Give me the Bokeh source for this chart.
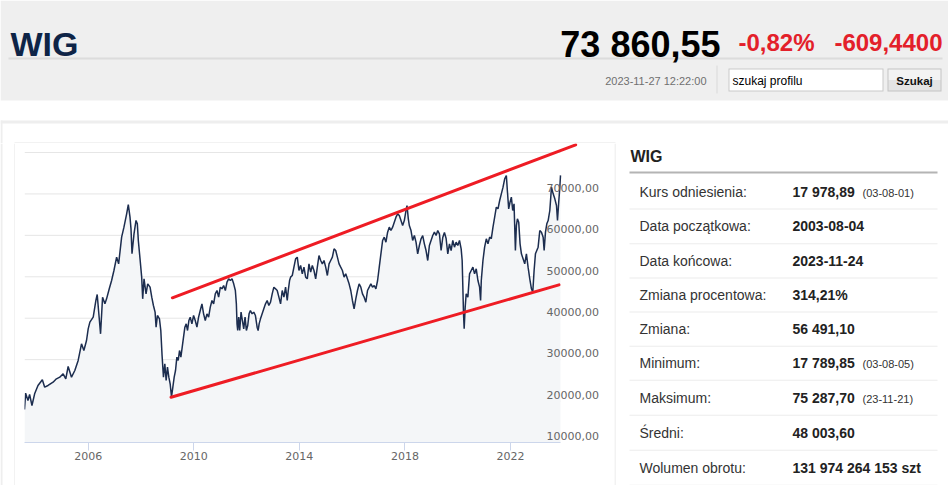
import numpy as np
import pandas as pd
from bokeh.plotting import figure
from bokeh.layouts import column, row
from bokeh.models import Range1d, FixedTicker, DatetimeTickFormatter
from bokeh.core.properties import value
from bokeh.embed import file_html
from bokeh.resources import INLINE

# ---------------- data ----------------
years = [2003.589, 2003.631, 2003.720, 2003.783, 2003.872, 2003.973, 2004.100, 2004.265, 2004.354, 2004.480,
         2004.670, 2004.797, 2004.924, 2005.051, 2005.152, 2005.241, 2005.368, 2005.494, 2005.621, 2005.748,
         2005.837, 2005.938, 2006.001, 2006.065, 2006.191, 2006.293, 2006.343, 2006.394, 2006.470, 2006.546,
         2006.635, 2006.698, 2006.800, 2006.889, 2006.977, 2007.079, 2007.155, 2007.205, 2007.269, 2007.357,
         2007.459, 2007.522, 2007.586, 2007.624, 2007.662, 2007.738, 2007.814, 2007.864, 2007.902, 2007.966,
         2008.029, 2008.067, 2008.118, 2008.194, 2008.257, 2008.346, 2008.410, 2008.473, 2008.536, 2008.574,
         2008.625, 2008.701, 2008.752, 2008.800, 2008.852, 2008.904, 2008.954, 2009.004, 2009.056, 2009.106,
         2009.157, 2009.208, 2009.259, 2009.309, 2009.360, 2009.411, 2009.461, 2009.512, 2009.563, 2009.613,
         2009.664, 2009.715, 2009.765, 2009.816, 2009.867, 2009.930, 2009.994, 2010.057, 2010.121, 2010.184,
         2010.247, 2010.311, 2010.374, 2010.437, 2010.501, 2010.564, 2010.627, 2010.691, 2010.754, 2010.817,
         2010.881, 2010.944, 2011.008, 2011.071, 2011.134, 2011.198, 2011.261, 2011.324, 2011.388, 2011.451,
         2011.515, 2011.578, 2011.616, 2011.641, 2011.667, 2011.705, 2011.743, 2011.794, 2011.844, 2011.895,
         2011.946, 2011.996, 2012.047, 2012.098, 2012.148, 2012.212, 2012.275, 2012.338, 2012.402, 2012.440,
         2012.478, 2012.529, 2012.592, 2012.655, 2012.719, 2012.782, 2012.845, 2012.909, 2012.972, 2013.035,
         2013.099, 2013.162, 2013.226, 2013.289, 2013.352, 2013.416, 2013.479, 2013.542, 2013.581, 2013.631,
         2013.669, 2013.733, 2013.796, 2013.859, 2013.923, 2013.986, 2014.049, 2014.113, 2014.176, 2014.240,
         2014.303, 2014.366, 2014.430, 2014.493, 2014.556, 2014.620, 2014.683, 2014.746, 2014.810, 2014.873,
         2014.936, 2015.000, 2015.063, 2015.127, 2015.190, 2015.253, 2015.317, 2015.380, 2015.444, 2015.507,
         2015.570, 2015.634, 2015.697, 2015.760, 2015.824, 2015.887, 2015.951, 2016.014, 2016.077, 2016.141,
         2016.204, 2016.267, 2016.331, 2016.394, 2016.457, 2016.521, 2016.584, 2016.648, 2016.711, 2016.774,
         2016.838, 2016.901, 2016.965, 2017.028, 2017.091, 2017.155, 2017.218, 2017.281, 2017.345, 2017.408,
         2017.471, 2017.535, 2017.598, 2017.662, 2017.725, 2017.788, 2017.852, 2017.915, 2017.978, 2018.042,
         2018.080, 2018.130, 2018.168, 2018.232, 2018.295, 2018.359, 2018.422, 2018.485, 2018.549, 2018.612,
         2018.676, 2018.739, 2018.802, 2018.866, 2018.929, 2018.992, 2019.056, 2019.119, 2019.183, 2019.246,
         2019.309, 2019.373, 2019.436, 2019.499, 2019.563, 2019.626, 2019.690, 2019.753, 2019.816, 2019.880,
         2019.943, 2020.006, 2020.070, 2020.133, 2020.171, 2020.197, 2020.222, 2020.247, 2020.285, 2020.323,
         2020.387, 2020.450, 2020.513, 2020.577, 2020.640, 2020.703, 2020.767, 2020.830, 2020.868, 2020.894,
         2020.957, 2021.020, 2021.084, 2021.147, 2021.211, 2021.274, 2021.337, 2021.401, 2021.464, 2021.527,
         2021.591, 2021.654, 2021.718, 2021.781, 2021.844, 2021.882, 2021.933, 2021.984, 2022.034, 2022.085,
         2022.136, 2022.187, 2022.225, 2022.263, 2022.313, 2022.364, 2022.415, 2022.478, 2022.541, 2022.605,
         2022.668, 2022.732, 2022.795, 2022.846, 2022.896, 2022.947, 2022.998, 2023.048, 2023.112, 2023.175,
         2023.239, 2023.277, 2023.327, 2023.378, 2023.429, 2023.492, 2023.555, 2023.619, 2023.682, 2023.745,
         2023.783, 2023.834, 2023.872, 2023.897]

wig = [17980, 21910, 20140, 21590, 18930, 21750, 23760, 25130, 23360, 23760,
       24560, 25370, 25770, 26580, 25370, 28350, 25770, 27380, 29800, 33820,
       32210, 34620, 37440, 39050, 40260, 44280, 45730, 41870, 36230, 45080,
       43470, 44680, 47100, 49110, 51520, 54740, 53130, 55950, 59570, 61980,
       65200, 67400, 64400, 61580, 55550, 60370, 63590, 62790, 58760, 54340,
       49910, 44680, 49510, 45890, 48300, 47500, 45080, 43070, 41460, 37840,
       40660, 39850, 37040, 31000, 25760, 29000, 24970, 28180, 25770, 24170,
       21000, 23360, 25770, 27380, 30600, 29790, 32210, 30600, 33010, 35420,
       37840, 38640, 37030, 39450, 40250, 38640, 40650, 39450, 37840, 40250,
       41860, 43470, 41060, 39450, 41060, 40250, 42670, 44280, 43470, 45880,
       46690, 45080, 47490, 47090, 47900, 46690, 48700, 49510, 49100, 49510,
       48300, 46690, 43470, 38640, 37030, 40250, 37030, 41460, 39450, 37440,
       40250, 37030, 38240, 41060, 41860, 41060, 41460, 40650, 37840, 37030,
       38640, 39850, 41060, 42260, 43470, 44280, 43070, 43870, 45880, 47490,
       47090, 46690, 45080, 43470, 46690, 45080, 47490, 44280, 46690, 49100,
       49910, 50310, 52320, 54330, 54730, 51520, 52720, 50710, 52320, 49910,
       49510, 53130, 51110, 52720, 51520, 49510, 52320, 55140, 53930, 53130,
       53930, 52320, 50310, 53130, 53930, 54730, 56750, 56340, 54730, 53130,
       52320, 51520, 49910, 50710, 49510, 48300, 46690, 44280, 42260, 44680,
       46690, 48300, 47490, 45880, 45080, 43870, 46690, 47490, 48300, 47490,
       47900, 47090, 49100, 52320, 55540, 58760, 59560, 58350, 60770, 61980,
       61170, 61980, 63180, 64390, 65190, 64790, 63580, 62380, 63580, 66000,
       67200, 63990, 62380, 61170, 58760, 59960, 58350, 55540, 57550, 59160,
       59960, 57950, 56340, 53930, 57550, 58760, 59960, 60770, 59960, 61170,
       60370, 56340, 59480, 60690, 59240, 55540, 57950, 56340, 58760, 57150,
       58350, 57550, 58760, 56750, 53930, 47490, 41060, 37440, 42670, 45880,
       45080, 50710, 51520, 52320, 50710, 51920, 49100, 47490, 44280, 49100,
       53930, 57150, 59160, 57950, 59560, 59200, 61980, 64390, 66800, 66400,
       68410, 70020, 71630, 73640, 74450, 70830, 66400, 68010, 69220, 66000,
       67610, 56340, 62380, 63990, 63180, 57950, 55540, 54330, 53130, 55540,
       52320, 49510, 47090, 46290, 51520, 55540, 56340, 57150, 61170, 60770,
       59560, 56340, 60770, 62780, 63580, 66000, 71630, 70020, 68810, 67200,
       63580, 68410, 71630, 74470]

# channel (trend) lines drawn on the chart
upper_years = [2009.19, 2024.47]
upper_values = [44930, 81860]
lower_years = [2009.14, 2023.84]
lower_values = [20930, 48060]

# axes
y_min, y_max = 10000, 80000
grid_values = [20000, 30000, 40000, 50000, 60000, 70000, 80000]
y_tick_values = [10000, 20000, 30000, 40000, 50000, 60000, 70000]
y_tick_labels = ["10000,00", "20000,00", "30000,00", "40000,00", "50000,00", "60000,00", "70000,00"]
x_tick_years = [2006, 2010, 2014, 2018, 2022]

# header / table texts
title = "WIG"
price = "73 860,55"
change_pct = "-0,82%"
change_abs = "-609,4400"
timestamp = "2023-11-27 12:22:00"
search_placeholder = "szukaj profilu"
search_button = "Szukaj"

table_labels = ["Kurs odniesienia:", "Data początkowa:", "Data końcowa:", "Zmiana procentowa:",
                "Zmiana:", "Minimum:", "Maksimum:", "Średni:", "Wolumen obrotu:"]
table_values = ["17 978,89", "2003-08-04", "2023-11-24", "314,21%", "56 491,10",
                "17 789,85", "75 287,70", "48 003,60", "131 974 264 153 szt"]
table_notes = ["(03-08-01)", "", "", "", "", "(03-08-05)", "(23-11-21)", "", ""]


def dec_year(y):
    yr = int(np.floor(y))
    start = pd.Timestamp(year=yr, month=1, day=1)
    end = pd.Timestamp(year=yr + 1, month=1, day=1)
    return start + (y - yr) * (end - start)


dates = [dec_year(y) for y in years]

# ---------------- page geometry (page pixels) ----------------
PAGE_W, PAGE_H = 948, 485
HEAD_H = 143                       # header strip height
BOX_L, BOX_R = 15, 614             # chart figure horizontal extent
DATA_L, DATA_R = 24, 560           # where the series starts / ends
DATA_T, DATA_B = 152, 442          # y of y_max / y_min
FRAME_R = 582                      # plot frame right edge (room for the channel line)
AX_FONT = "DejaVu Sans"
PAGE_FONT = "Liberation Sans"


def deco_fig(x0, x1, y0, y1):
    f = figure(width=x1 - x0, height=y1 - y0, x_range=Range1d(x0, x1), y_range=Range1d(y1, y0),
               output_backend="svg", toolbar_location=None,
               x_axis_location=None, y_axis_location=None, min_border=0)
    f.grid.visible = False
    f.outline_line_color = None
    f.background_fill_color = "white"
    f.border_fill_color = "white"
    return f


def rect(f, l, r, t, b, color):
    f.quad(left=[l], right=[r], top=[t], bottom=[b], fill_color=color, line_color=None)


def txt(f, s, x, y, size, color, bold=False, align="left", baseline="middle", font=PAGE_FONT):
    f.text(x=[x], y=[y], text=[s], text_font=value(font), text_font_size=size,
           text_font_style="bold" if bold else "normal", text_color=color,
           text_align=align, text_baseline=baseline)


# ---------------- header ----------------
hdr = deco_fig(0, PAGE_W, 0, HEAD_H)
rect(hdr, 0, PAGE_W, 0, 100, "#efefef")
rect(hdr, 8, 942, 57, 59, "#dcdcdc")
rect(hdr, 716, 717, 65, 93, "#d9d9d9")
rect(hdr, 728, 883, 68, 91, "#c9c9c9")
rect(hdr, 729, 882, 69, 90, "#ffffff")
rect(hdr, 887, 941, 68, 91, "#c4c4c4")
rect(hdr, 888, 940, 69, 79.5, "#f3f3f3")
rect(hdr, 888, 940, 79.5, 90, "#e4e4e4")
rect(hdr, 0, PAGE_W, 120, 123, "#eeeeee")
rect(hdr, 0, 2, 120, HEAD_H, "#eeeeee")
rect(hdr, 14, BOX_R + 1, 142, 143, "#e6e6e6")

txt(hdr, title, 10, 43, "34px", "#0e2447", bold=True, baseline="alphabetic")
txt(hdr, price, 720, 44, "36px", "#000000", bold=True, align="right", baseline="alphabetic")
txt(hdr, change_pct, 738, 42, "24px", "#e3202a", bold=True, baseline="alphabetic")
txt(hdr, change_abs, 942, 42, "24px", "#e3202a", bold=True, align="right", baseline="alphabetic")
txt(hdr, timestamp, 706, 80, "11px", "#6f6f6f", align="right")
txt(hdr, search_placeholder, 732, 80, "12px", "#000000")
txt(hdr, search_button, 914, 80, "11.5px", "#111111", bold=True, align="center")

# ---------------- left strip ----------------
left = deco_fig(0, BOX_L, HEAD_H, PAGE_H)
rect(left, 0, 2, HEAD_H, PAGE_H, "#eeeeee")
rect(left, 14, 15, HEAD_H, PAGE_H, "#e6e6e6")

# ---------------- chart ----------------
x_span = dates[-1] - dates[0]
x_end = dates[-1] + x_span * ((FRAME_R - DATA_R) / (DATA_R - DATA_L))
y_end = y_max + (y_max - y_min) * ((DATA_T - HEAD_H) / (DATA_B - DATA_T))

p = figure(width=BOX_R - BOX_L, height=PAGE_H - HEAD_H, x_axis_type="datetime", y_axis_location="right",
           output_backend="svg", toolbar_location=None,
           x_range=Range1d(dates[0], x_end), y_range=Range1d(y_min, y_end),
           min_border_left=DATA_L - BOX_L, min_border_right=BOX_R - FRAME_R,
           min_border_top=0, min_border_bottom=PAGE_H - DATA_B)
p.outline_line_color = None
p.background_fill_color = "white"
p.border_fill_color = "white"
p.xgrid.visible = False
p.ygrid.visible = False

# y axis (labels on the right, sitting just above their grid lines)
label_shift = 1500
p.yaxis.ticker = FixedTicker(ticks=[v + label_shift for v in y_tick_values])
p.yaxis.major_label_overrides = {v + label_shift: t for v, t in zip(y_tick_values, y_tick_labels)}
p.yaxis.axis_line_color = None
p.yaxis.major_tick_line_color = None
p.yaxis.minor_tick_line_color = None
p.yaxis.major_label_standoff = 540 - FRAME_R
p.yaxis.major_label_text_font = AX_FONT
p.yaxis.major_label_text_font_size = "11px"
p.yaxis.major_label_text_color = "#666666"

# x axis
p.xaxis.ticker = FixedTicker(ticks=[pd.Timestamp(year=y, month=1, day=1).value / 1e6 for y in x_tick_years])
p.xaxis.formatter = DatetimeTickFormatter(years="%Y", months="%Y", days="%Y", hours="%Y")
p.xaxis.bounds = (dates[0], dates[-1])
p.xaxis.axis_line_color = "#ccd6eb"
p.xaxis.major_tick_line_color = "#ccd6eb"
p.xaxis.minor_tick_line_color = None
p.xaxis.major_tick_in = 0
p.xaxis.major_tick_out = 8
p.xaxis.major_label_standoff = 1
p.xaxis.major_label_text_font = AX_FONT
p.xaxis.major_label_text_font_size = "11px"
p.xaxis.major_label_text_color = "#666666"

# horizontal grid lines limited to the data span
p.segment(x0=[dates[0]] * len(grid_values), x1=[dates[-1]] * len(grid_values),
          y0=grid_values, y1=grid_values, line_color="#e6e6e6", line_width=1)

# series
p.varea(x=dates, y1=y_min, y2=wig, fill_color="#f4f6f8")
p.line(dates, wig, line_color="#1c2d4f", line_width=1.5)

# trend channel
for xs, ys in ((upper_years, upper_values), (lower_years, lower_values)):
    p.line([dec_year(v) for v in xs], ys, line_color="#ee1c24", line_width=3, line_cap="round")

# ---------------- table ----------------
tbl = deco_fig(BOX_R, PAGE_W, HEAD_H, PAGE_H)
rect(tbl, BOX_R, BOX_R + 1, HEAD_H, PAGE_H, "#e6e6e6")
rect(tbl, 629, 937, 171, 173, "#b4b4b4")
row_y = [191, 225.7, 260, 294, 328.3, 362.3, 397.3, 432.3, 467.3]
for ry in row_y:
    rect(tbl, 629, 937, ry + 17, ry + 18, "#ececec")

txt(tbl, title, 630, 156, "16px", "#222222", bold=True)
for ry, lab, val, note in zip(row_y, table_labels, table_values, table_notes):
    txt(tbl, lab, 639, ry, "14px", "#333333")
    txt(tbl, val, 792, ry, "14px", "#222222", bold=True)
    if note:
        txt(tbl, note, 862, ry + 1.5, "11px", "#333333")

# each side piece sits in its own container so that its frame keeps its full size
layout = column(hdr, row(column(left), p, column(tbl)))
open("out.html", "w").write(file_html(layout, INLINE))
